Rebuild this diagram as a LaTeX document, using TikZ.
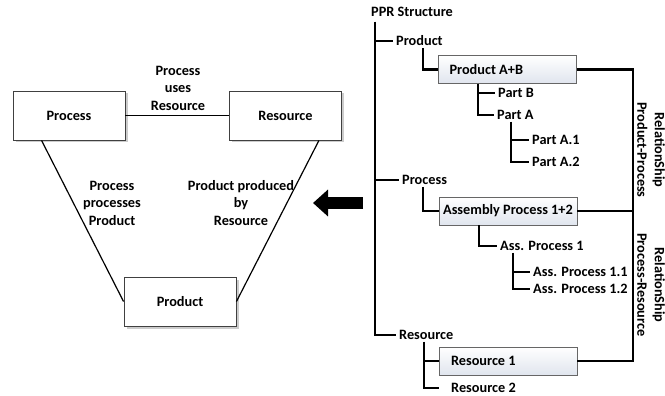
\documentclass[tikz,border=0pt]{standalone}
\usepackage{fontspec}
\setmainfont{Carlito}
\usepackage{xcolor}
\usetikzlibrary{arrows.meta, shadows}

\definecolor{boxbot}{HTML}{E0E5EE}

\begin{document}
\begin{tikzpicture}[x=1pt, y=-1pt,
  font=\fontsize{14.3}{17.5}\selectfont\bfseries,
  main node/.style={rectangle, draw=black!75, fill=white, line width=0.9pt,
    minimum width=112pt, minimum height=49pt,
    drop shadow={shadow xshift=2.5pt, shadow yshift=-2.5pt, fill=black!40}},
  tree box/.style={rectangle, draw=black!60, line width=0.8pt, top color=white,
    bottom color=boxbot, minimum height=28pt, minimum width=138pt,
    inner ysep=0pt, inner xsep=2pt},
  leaf node/.style={anchor=west, inner xsep=3pt, inner ysep=2pt},
  tree line/.style={line width=2.6pt, black},
  link/.style={line width=1.2pt, black}]

  \useasboundingbox (0,0) rectangle (665,396);

  % PPR triangle
  \node[main node] (process) at (69,115.5) {Process};
  \node[main node] (resource) at (285.5,115.5) {Resource};
  \node[main node] (product) at (180,301.5) {Product};

  \draw[link] (process) -- (resource);
  \draw[link] ([xshift=29pt]process.south west) -- (product.west);
  \draw[link] ([xshift=-23pt]resource.south east) -- (product.east);

  \node[align=center] (uses) at (178,88) {Process\\uses\\Resource};
  \node[align=center] (processes) at (112,203) {Process\\processes\\Product};
  \node[align=center] (produced) at (241,203) {Product produced\\by\\Resource};

  % big arrow
  \coordinate (arrow tail) at (363,203);
  \coordinate (arrow head) at (313,203);
  \draw[line width=12pt, -{Triangle[length=15pt, width=26pt]}] (arrow tail) -- (arrow head);

  % PPR structure tree
  \node[anchor=west, inner sep=2pt] (ppr) at (369,12) {PPR Structure};
  \coordinate (trunk) at (375,22);
  \node[leaf node] (prodT) at (393,41) {Product};
  \node[leaf node] (procT) at (399,180) {Process};
  \node[leaf node] (resT) at (396,335) {Resource};

  \node[tree box] (pab) at (507.5,69.5) {\makebox[116pt][l]{Product A+B}};
  \node[leaf node] (partB) at (495,93) {Part B};
  \node[leaf node] (partA) at (494,115) {Part A};
  \node[leaf node] (partA1) at (529,140) {Part A.1};
  \node[leaf node] (partA2) at (529,162) {Part A.2};

  \node[tree box] (asm) at (508,211) {Assembly Process 1+2};
  \node[leaf node] (ap1) at (497,246) {Ass. Process 1};
  \node[leaf node] (ap11) at (530,272) {Ass. Process 1.1};
  \node[leaf node] (ap12) at (530,289) {Ass. Process 1.2};

  \node[tree box] (res1) at (508,361) {\makebox[114pt][l]{Resource 1}};
  \node[leaf node, inner xsep=12pt] (res2) at (439,388) {Resource 2};

  \draw[tree line] (trunk) |- (prodT.west);
  \draw[tree line] (trunk) |- (procT.west);
  \draw[tree line] (trunk) |- (resT.west);

  \draw[tree line] ([xshift=30pt]prodT.south west) |- (pab.west);
  \draw[tree line] ([xshift=-29.5pt]pab.south) |- (partB.west);
  \draw[tree line] ([xshift=-29.5pt]pab.south) |- (partA.west);
  \draw[tree line] ([xshift=17pt]partA.south west) |- (partA1.west);
  \draw[tree line] ([xshift=17pt]partA.south west) |- (partA2.west);

  \draw[tree line] ([xshift=24pt]procT.south west) |- (asm.west);
  \draw[tree line] ([xshift=-29pt]asm.south) |- (ap1.west);
  \draw[tree line] ([xshift=16pt]ap1.south west) |- (ap11.west);
  \draw[tree line] ([xshift=16pt]ap1.south west) |- (ap12.west);

  \draw[tree line] ([xshift=28pt]resT.south west) |- (res1.west);
  \draw[tree line] ([xshift=28pt]resT.south west) |- (res2.west);

  % relationship lines
  \coordinate (rel) at (633,0);
  \draw[tree line] (pab.east) -- (pab.east -| rel) -- (res1.east -| rel) -- (res1.east);
  \draw[tree line] (asm.east) -- (asm.east -| rel);

  \node[rotate=-90, align=center] (relPP) at (651,150) {RelationShip\\Product-Process};
  \node[rotate=-90, align=center] (relPR) at (651,285) {RelationShip\\Process-Resource};
\end{tikzpicture}
\end{document}
